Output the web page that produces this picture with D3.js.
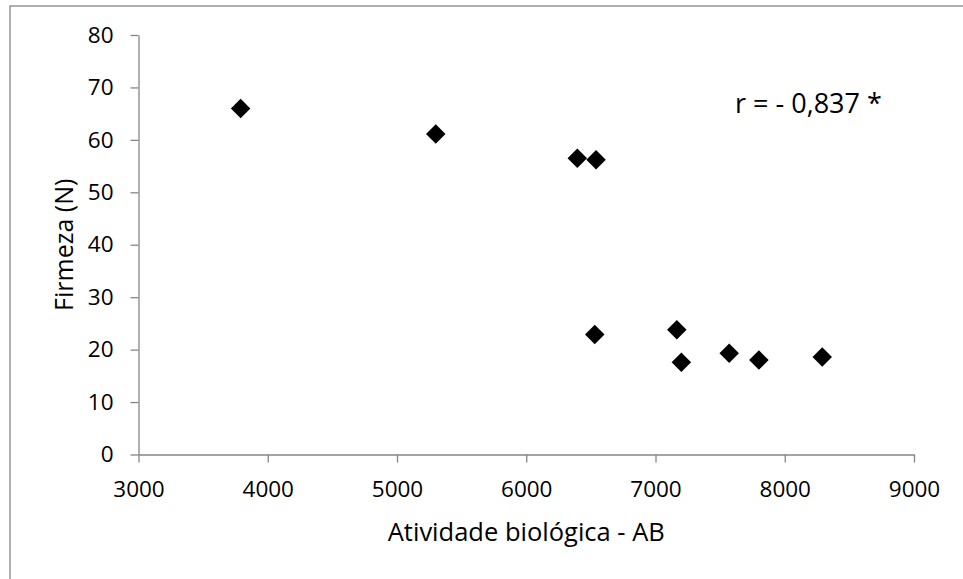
<!DOCTYPE html>
<html lang="pt">
<head>
<meta charset="utf-8">
<title>Firmeza x Atividade biológica</title>
<script src="https://d3js.org/d3.v7.min.js"></script>
<style>
  body{margin:0;background:#fff;font-family:"Open Sans",sans-serif;}
  .axis path,.axis line{stroke:#868686;stroke-width:1.3px;}
  .axis text{fill:#000;font-family:"Open Sans",sans-serif;font-size:22.5px;}
</style>
</head>
<body>
<div id="chart"></div>
<script>
// valores
var atividade = [3790, 5300, 6395, 6540, 6530, 7165, 7200, 7570, 7800, 8290]
var firmeza = [66.0, 61.1, 56.5, 56.2, 22.9, 23.8, 17.6, 19.3, 18.0, 18.6]
var xTicks = [3000, 4000, 5000, 6000, 7000, 8000, 9000]
var yTicks = [0, 10, 20, 30, 40, 50, 60, 70, 80]
var xTitle = "Atividade biológica - AB"
var yTitle = "Firmeza (N)"
var note = "r = - 0,837 *"

var w = 963
var h = 579

var svg = d3.select("#chart")
    .append("svg")
    .attr("width", w)
    .attr("height", h)

// moldura do gráfico (corta à direita e embaixo)
svg.append("rect")
    .attr("x", 10)
    .attr("y", 6)
    .attr("width", 1000)
    .attr("height", 1000)
    .attr("fill", "none")
    .attr("stroke", "#868686")
    .attr("stroke-width", 1.3)

var xScale = d3.scaleLinear()
    .domain([3000, 9000])
    .range([138.5, 914])

var yScale = d3.scaleLinear()
    .domain([0, 80])
    .range([454.5, 35])

var xAxis = d3.axisBottom(xScale)
    .tickValues(xTicks)
    .tickFormat(d3.format("d"))
    .tickSizeInner(8)
    .tickSizeOuter(0)
    .tickPadding(19)

var yAxis = d3.axisLeft(yScale)
    .tickValues(yTicks)
    .tickFormat(d3.format("d"))
    .tickSizeInner(8)
    .tickSizeOuter(0)
    .tickPadding(17)

svg.append("g")
    .attr("class", "axis")
    .attr("transform", "translate(0," + yScale(0) + ")")
    .call(xAxis)

svg.append("g")
    .attr("class", "axis")
    .attr("transform", "translate(" + xScale(3000) + ",0)")
    .call(yAxis)

// pontos em losango
var diamond = d3.symbol().type(d3.symbolSquare).size(190)

svg.selectAll(".pt")
    .data(atividade)
    .enter()
    .append("path")
    .attr("class", "pt")
    .attr("d", diamond)
    .attr("transform", function(d, i){
        return "translate(" + xScale(d) + "," + yScale(firmeza[i]) + ") rotate(45)"
    })
    .attr("fill", "#000")

svg.append("text")
    .attr("x", (xScale(3000) + xScale(9000)) / 2)
    .attr("y", 541)
    .attr("text-anchor", "middle")
    .style("font-size", "25.5px")
    .text(xTitle)

svg.append("text")
    .attr("transform", "translate(73," + (yScale(0) + yScale(80)) / 2 + ") rotate(-90)")
    .attr("text-anchor", "middle")
    .style("font-size", "25px")
    .text(yTitle)

svg.append("text")
    .attr("x", 735)
    .attr("y", 113)
    .style("font-size", "27px")
    .text(note)
</script>
</body>
</html>
